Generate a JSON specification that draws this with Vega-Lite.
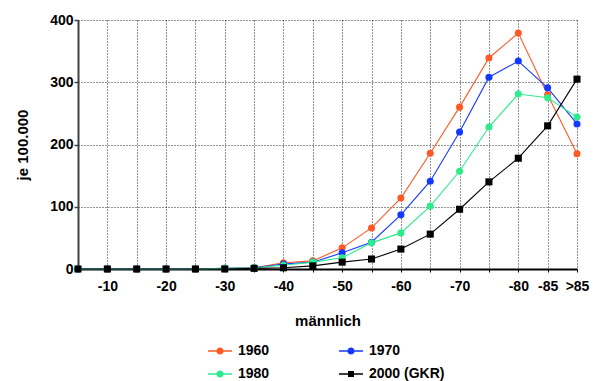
{
  "$schema": "https://vega.github.io/schema/vega-lite/v6.json",
  "width": 499,
  "height": 249,
  "autosize": {"type": "none"},
  "padding": {"left": 78, "top": 20, "right": 18, "bottom": 112},
  "background": "white",
  "config": {
    "view": {"stroke": null},
    "font": "Liberation Sans"
  },
  "data": {
    "values": [
      {"age": "-5", "year": "1960", "value": 0}, {"age": "-10", "year": "1960", "value": 0}, {"age": "-15", "year": "1960", "value": 0}, {"age": "-20", "year": "1960", "value": 0}, {"age": "-25", "year": "1960", "value": 0}, {"age": "-30", "year": "1960", "value": 1}, {"age": "-35", "year": "1960", "value": 2}, {"age": "-40", "year": "1960", "value": 10}, {"age": "-45", "year": "1960", "value": 13}, {"age": "-50", "year": "1960", "value": 34}, {"age": "-55", "year": "1960", "value": 66}, {"age": "-60", "year": "1960", "value": 114}, {"age": "-65", "year": "1960", "value": 186}, {"age": "-70", "year": "1960", "value": 260}, {"age": "-75", "year": "1960", "value": 339}, {"age": "-80", "year": "1960", "value": 379}, {"age": "-85", "year": "1960", "value": 280}, {"age": ">85", "year": "1960", "value": 185},
      {"age": "-5", "year": "1970", "value": 0}, {"age": "-10", "year": "1970", "value": 0}, {"age": "-15", "year": "1970", "value": 0}, {"age": "-20", "year": "1970", "value": 0}, {"age": "-25", "year": "1970", "value": 0}, {"age": "-30", "year": "1970", "value": 1}, {"age": "-35", "year": "1970", "value": 2}, {"age": "-40", "year": "1970", "value": 8}, {"age": "-45", "year": "1970", "value": 11}, {"age": "-50", "year": "1970", "value": 26}, {"age": "-55", "year": "1970", "value": 43}, {"age": "-60", "year": "1970", "value": 87}, {"age": "-65", "year": "1970", "value": 141}, {"age": "-70", "year": "1970", "value": 220}, {"age": "-75", "year": "1970", "value": 308}, {"age": "-80", "year": "1970", "value": 334}, {"age": "-85", "year": "1970", "value": 291}, {"age": ">85", "year": "1970", "value": 233},
      {"age": "-5", "year": "1980", "value": 0}, {"age": "-10", "year": "1980", "value": 0}, {"age": "-15", "year": "1980", "value": 0}, {"age": "-20", "year": "1980", "value": 0}, {"age": "-25", "year": "1980", "value": 0}, {"age": "-30", "year": "1980", "value": 1}, {"age": "-35", "year": "1980", "value": 2}, {"age": "-40", "year": "1980", "value": 6}, {"age": "-45", "year": "1980", "value": 11}, {"age": "-50", "year": "1980", "value": 18}, {"age": "-55", "year": "1980", "value": 42}, {"age": "-60", "year": "1980", "value": 58}, {"age": "-65", "year": "1980", "value": 101}, {"age": "-70", "year": "1980", "value": 157}, {"age": "-75", "year": "1980", "value": 228}, {"age": "-80", "year": "1980", "value": 281}, {"age": "-85", "year": "1980", "value": 275}, {"age": ">85", "year": "1980", "value": 244},
      {"age": "-5", "year": "2000 (GKR)", "value": 0}, {"age": "-10", "year": "2000 (GKR)", "value": 0}, {"age": "-15", "year": "2000 (GKR)", "value": 0}, {"age": "-20", "year": "2000 (GKR)", "value": 0}, {"age": "-25", "year": "2000 (GKR)", "value": 0}, {"age": "-30", "year": "2000 (GKR)", "value": 0}, {"age": "-35", "year": "2000 (GKR)", "value": 1}, {"age": "-40", "year": "2000 (GKR)", "value": 2}, {"age": "-45", "year": "2000 (GKR)", "value": 5}, {"age": "-50", "year": "2000 (GKR)", "value": 11}, {"age": "-55", "year": "2000 (GKR)", "value": 16}, {"age": "-60", "year": "2000 (GKR)", "value": 32}, {"age": "-65", "year": "2000 (GKR)", "value": 56}, {"age": "-70", "year": "2000 (GKR)", "value": 96}, {"age": "-75", "year": "2000 (GKR)", "value": 140}, {"age": "-80", "year": "2000 (GKR)", "value": 178}, {"age": "-85", "year": "2000 (GKR)", "value": 230}, {"age": ">85", "year": "2000 (GKR)", "value": 305}
    ]
  },
  "encoding": {
    "x": {
      "field": "age",
      "type": "ordinal",
      "sort": ["-5", "-10", "-15", "-20", "-25", "-30", "-35", "-40", "-45", "-50", "-55", "-60", "-65", "-70", "-75", "-80", "-85", ">85"],
      "scale": {"type": "point", "padding": 0},
      "axis": {
        "title": "männlich",
        "titleFont": "Liberation Sans",
        "titleFontSize": 15,
        "titleFontWeight": "bold",
        "titleColor": "#000",
        "titleBaseline": "alphabetic",
        "titleY": 56,
        "labelExpr": "indexof(['-10','-20','-30','-40','-50','-60','-70','-80','-85','>85'], datum.value) >= 0 ? datum.value : ''",
        "labelFont": "Liberation Sans",
        "labelFontSize": 14,
        "labelFontWeight": "bold",
        "labelColor": "#000",
        "labelAngle": 0,
        "labelPadding": 7,
        "labelOverlap": false,
        "domainColor": "#000",
        "domainWidth": 2,
        "tickColor": "#000",
        "tickSize": 3,
        "grid": true,
        "gridColor": "#000",
        "gridDash": [1, 2],
        "gridWidth": 1,
        "gridOpacity": 0.85
      }
    },
    "y": {
      "field": "value",
      "type": "quantitative",
      "scale": {"domain": [0, 400], "nice": false},
      "axis": {
        "title": "je 100.000",
        "titleFont": "Liberation Sans",
        "titleFontSize": 15,
        "titleFontWeight": "bold",
        "titleColor": "#000",
        "titleBaseline": "alphabetic",
        "titleX": -51,
        "titleY": 124.5,
        "values": [0, 100, 200, 300, 400],
        "labelFont": "Liberation Sans",
        "labelFontSize": 14,
        "labelFontWeight": "bold",
        "labelColor": "#000",
        "labelPadding": 1,
        "domainColor": "#404040",
        "domainWidth": 2,
        "tickColor": "#404040",
        "tickSize": 4,
        "tickWidth": 1.5,
        "grid": true,
        "gridColor": "#000",
        "gridDash": [1, 2],
        "gridWidth": 1,
        "gridOpacity": 0.85
      }
    },
    "color": {
      "field": "year",
      "type": "nominal",
      "scale": {
        "domain": ["1960", "1970", "1980", "2000 (GKR)"],
        "range": ["#FF5A26", "#1438FF", "#2EEB8C", "#000000"]
      },
      "legend": {
        "title": null,
        "orient": "none",
        "direction": "horizontal",
        "legendX": 130,
        "legendY": 319,
        "columns": 2,
        "padding": 0,
        "columnPadding": 69,
        "rowPadding": 4,
        "symbolSize": 576,
        "symbolType": "M-1,-0.06H1V0.06H-1Z M-0.3,0A0.3,0.3 0 1,1 0.3,0A0.3,0.3 0 1,1 -0.3,0Z",
        "symbolStrokeWidth": 0,
        "labelOffset": 6,
        "labelFont": "Liberation Sans",
        "labelFontSize": 14,
        "labelFontWeight": "bold",
        "labelColor": "#000",
        "encode": {
          "symbols": {
            "update": {
              "shape": {"signal": "datum.value === '2000 (GKR)' ? 'M-1,-0.06H1V0.06H-1Z M-0.25,-0.25H0.25V0.25H-0.25Z' : 'M-1,-0.06H1V0.06H-1Z M-0.3,0A0.3,0.3 0 1,1 0.3,0A0.3,0.3 0 1,1 -0.3,0Z'"},
              "fill": {"scale": "color", "field": "value"},
              "stroke": {"value": "transparent"},
              "strokeWidth": {"value": 0},
              "opacity": {"value": 1}
            }
          }
        }
      }
    }
  },
  "layer": [
    {"mark": {"type": "line", "strokeWidth": 1.1}},
    {
      "transform": [{"filter": "datum.year !== '2000 (GKR)'"}],
      "mark": {"type": "point", "shape": "circle", "filled": true, "opacity": 1, "size": 50}
    },
    {
      "transform": [{"filter": "datum.year === '2000 (GKR)'"}],
      "mark": {"type": "point", "shape": "square", "filled": true, "opacity": 1, "size": 50}
    }
  ]
}
